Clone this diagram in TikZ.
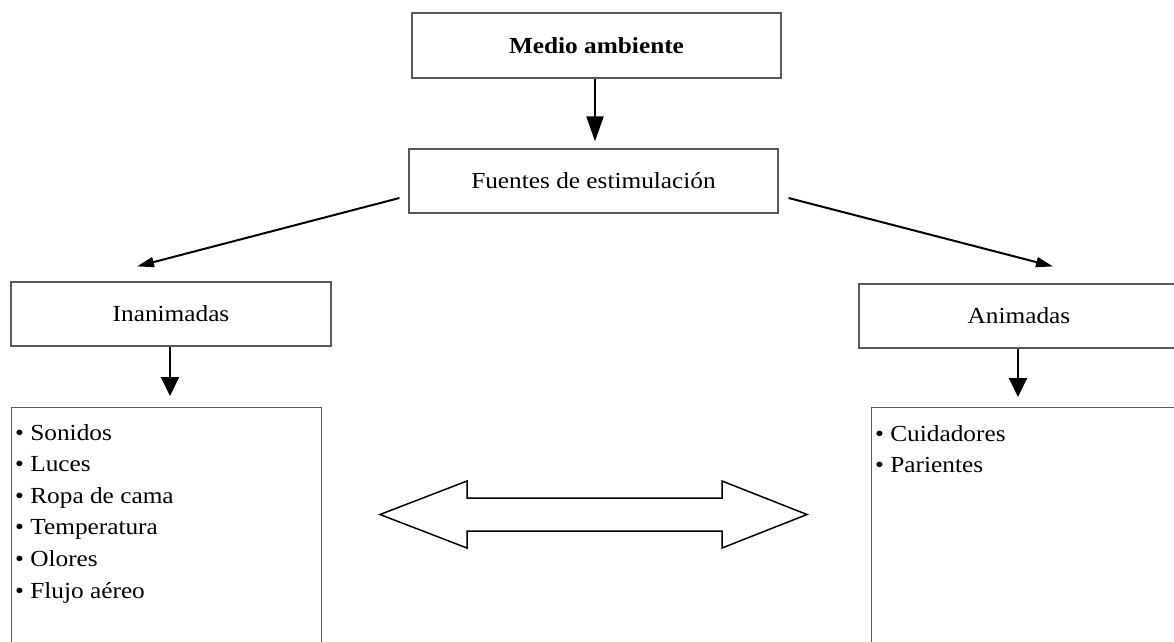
\documentclass[tikz,border=0pt]{standalone}
\usepackage{fontspec}
\setmainfont[FakeStretch=1.1]{Liberation Serif}
\usetikzlibrary{arrows.meta}

\tikzset{
  box/.style={draw=black!65, line width=1.2pt, rectangle, inner sep=0pt,
    font=\fontsize{23}{28}\selectfont},
  listtext/.style={anchor=north west, align=left, inner sep=0pt,
    font=\fontsize{23}{31.6}\selectfont},
  flow/.style={draw=black, line width=2pt,
    -{Triangle[length=25pt,width=17pt]}},
  slant/.style={draw=black, line width=2pt,
    -{Triangle[length=17pt,width=10pt]}},
  drop/.style={draw=black, line width=2pt,
    -{Triangle[length=19pt,width=18pt]}},
}

\begin{document}
\begin{tikzpicture}[x=1pt, y=-1pt]
\useasboundingbox (0,0) rectangle (1174,641);
\begin{scope}
\clip (0,0) rectangle (1174,641);

% top of the hierarchy
\node[box, minimum width=369pt, minimum height=65pt] (medio) at (596.5,45.5)
  {\textbf{Medio ambiente}};
\node[box, minimum width=369pt, minimum height=64pt] (fuentes) at (593.5,181)
  {Fuentes de estimulación};

% the two kinds of sources
\node[box, minimum width=320pt, minimum height=64pt] (inan) at (171,314)
  {Inanimadas};
\node[box, minimum width=320pt, minimum height=64pt] (anim) at (1019,316)
  {Animadas};

% lists of sources
\node[box, minimum width=310pt, minimum height=260pt, anchor=north west]
  (listin) at (11,407) {};
\node[box, minimum width=320pt, minimum height=260pt, anchor=north west]
  (listan) at (871,407) {};

\node[listtext] (itemsin) at ([xshift=4pt,yshift=-17pt]listin.north west)
  {\textbullet\ Sonidos\\ \textbullet\ Luces\\ \textbullet\ Ropa de cama\\
   \textbullet\ Temperatura\\ \textbullet\ Olores\\ \textbullet\ Flujo aéreo};
\node[listtext] (itemsan) at ([xshift=4pt,yshift=-18pt]listan.north west)
  {\textbullet\ Cuidadores\\ \textbullet\ Parientes};

% connectors
\draw[flow] ([xshift=-1.5pt]medio.south) -- ([xshift=1.5pt,yshift=7pt]fuentes.north);
\draw[slant] ([xshift=-9pt,yshift=-17pt]fuentes.west)
  -- ([xshift=-34pt,yshift=15pt]inan.north);
\draw[slant] ([xshift=10pt,yshift=-17pt]fuentes.east)
  -- ([xshift=34pt,yshift=17pt]anim.north);
\draw[drop] ([xshift=-1pt]inan.south) -- ([xshift=-1pt,yshift=11pt]listin.north -| inan.south);
\draw[drop] ([xshift=-1pt]anim.south) -- ([xshift=-1pt,yshift=10pt]listan.north -| anim.south);

% two-way exchange between the lists
\draw[line width=1.5pt, line join=miter]
  (380,514.5) -- (467,481) -- (467,498) -- (722,498) -- (722,481)
  -- (807,514.5) -- (722,548) -- (722,531) -- (467,531) -- (467,548) -- cycle;
\end{scope}
\end{tikzpicture}
\end{document}
